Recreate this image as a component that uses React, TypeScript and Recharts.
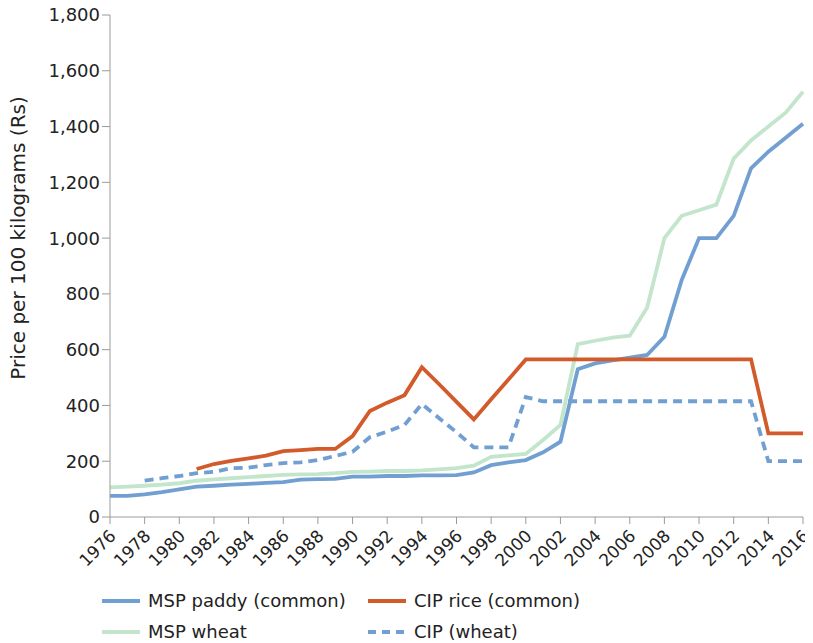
import { LineChart, Line, XAxis, YAxis, Legend } from "recharts";

const years = [
  1976, 1977, 1978, 1979, 1980, 1981, 1982, 1983, 1984, 1985, 1986, 1987, 1988, 1989,
  1990, 1991, 1992, 1993, 1994, 1995, 1996, 1997, 1998, 1999, 2000, 2001, 2002, 2003,
  2004, 2005, 2006, 2007, 2008, 2009, 2010, 2011, 2012, 2013, 2014, 2015, 2016,
];

const mspPaddy = [
  76, 76, 81, 89, 99, 109, 112, 116, 119, 122, 125, 134, 136, 137, 145, 145, 147, 147,
  149, 149, 150, 160, 186, 196, 204, 232, 270, 530, 551, 562, 571, 581, 646, 850, 1000,
  1000, 1080, 1250, 1310, 1360, 1410,
];

const mspWheat = [
  106, 109, 112, 116, 121, 130, 135, 139, 143, 147, 151, 153, 154, 157, 162, 163, 165,
  165, 167, 171, 175, 184, 216, 221, 226, 276, 330, 620, 632, 643, 650, 750, 1000, 1080,
  1100, 1120, 1285, 1350, 1400, 1450, 1525,
];

const cipRice = [
  null, null, null, null, null, 172, 190, 201, 210, 220, 236, 240, 244, 244, 290, 380,
  410, 437, 537, 476, 413, 350, 422, 493, 565, 565, 565, 565, 565, 565, 565, 565, 565,
  565, 565, 565, 565, 565, 300, 300, 300,
];

const cipWheat = [
  null, null, 130, 139, 147, 157, 162, 175, 177, 186, 193, 196, 204, 219, 234, 286, 306,
  330, 405, 354, 304, 250, 250, 250, 430, 415, 415, 415, 415, 415, 415, 415, 415, 415,
  415, 415, 415, 415, 200, 200, 200,
];

const yTicks = [0, 200, 400, 600, 800, 1000, 1200, 1400, 1600, 1800];
const xTicks = years.filter((y) => (y - 1976) % 2 === 0);

const data = years.map((year, i) => ({
  year,
  mspPaddy: mspPaddy[i],
  mspWheat: mspWheat[i],
  cipRice: cipRice[i],
  cipWheat: cipWheat[i],
}));

const BLUE = "#729fd1";
const RED = "#d25a2b";
const GREEN = "#c3e5cc";
const AXIS = "#9a9a9a";
const FONT = "'DejaVu Sans', sans-serif";

const legendItems = [
  { label: "MSP paddy (common)", color: BLUE, dash: undefined, col: 0, row: 0 },
  { label: "CIP rice (common)", color: RED, dash: undefined, col: 1, row: 0 },
  { label: "MSP wheat", color: GREEN, dash: undefined, col: 0, row: 1 },
  { label: "CIP (wheat)", color: BLUE, dash: "8 6", col: 1, row: 1 },
];

const XTick = (props: any) => {
  const { x, y, payload } = props;
  return (
    <text
      x={x + 7}
      y={y + 11}
      transform={`rotate(-45, ${x + 7}, ${y + 11})`}
      textAnchor="end"
      fontSize={17}
      fontFamily={FONT}
      fill="#222"
    >
      {payload.value}
    </text>
  );
};

const renderLegend = () => (
  <svg width={520} height={60} style={{ display: "block" }}>
    {legendItems.map((it) => {
      const x = it.col * 266;
      const y = it.row * 31 + 14;
      return (
        <g key={it.label}>
          <line
            x1={x}
            x2={x + 38}
            y1={y}
            y2={y}
            stroke={it.color}
            strokeWidth={4}
            strokeDasharray={it.dash}
          />
          <text
            x={x + 46}
            y={y + 6}
            fontSize={18}
            fontFamily={FONT}
            fill="#222"
          >
            {it.label}
          </text>
        </g>
      );
    })}
  </svg>
);

export default function App() {
  return (
    <div style={{ margin: "-8px 0 0 -8px" }}>
      <LineChart
        width={813}
        height={643}
        data={data}
        margin={{ top: 15, right: 10, left: 15, bottom: 14 }}
      >
        <XAxis
          dataKey="year"
          type="number"
          domain={[1976, 2016]}
          ticks={xTicks}
          interval={0}
          stroke={AXIS}
          tickSize={7}
          tick={<XTick />}
          height={52}
        />
        <YAxis
          domain={[0, 1800]}
          ticks={yTicks}
          width={95}
          stroke={AXIS}
          tickSize={8}
          tickFormatter={(v: number) => v.toLocaleString("en-US")}
          tick={{ fontSize: 18, fontFamily: FONT, fill: "#222" }}
          label={{
            content: () => {
              const cx = 18;
              const cy = 238;
              return (
                <text
                  x={cx}
                  y={cy}
                  transform={`rotate(-90, ${cx}, ${cy})`}
                  textAnchor="middle"
                  dominantBaseline="central"
                  fontSize={20}
                  fontFamily={FONT}
                  fill="#222"
                >
                  Price per 100 kilograms (Rs)
                </text>
              );
            },
          }}
        />
        <Legend
          content={renderLegend}
          wrapperStyle={{ position: "absolute", top: 587, left: 102, width: 520 }}
        />
        <Line
          dataKey="mspWheat"
          stroke={GREEN}
          strokeWidth={3.8}
          dot={false}
          isAnimationActive={false}
        />
        <Line
          dataKey="mspPaddy"
          stroke={BLUE}
          strokeWidth={3.8}
          dot={false}
          isAnimationActive={false}
        />
        <Line
          dataKey="cipWheat"
          stroke={BLUE}
          strokeWidth={3.8}
          strokeDasharray="9 6"
          dot={false}
          isAnimationActive={false}
        />
        <Line
          dataKey="cipRice"
          stroke={RED}
          strokeWidth={3.8}
          dot={false}
          isAnimationActive={false}
        />
      </LineChart>
    </div>
  );
}
